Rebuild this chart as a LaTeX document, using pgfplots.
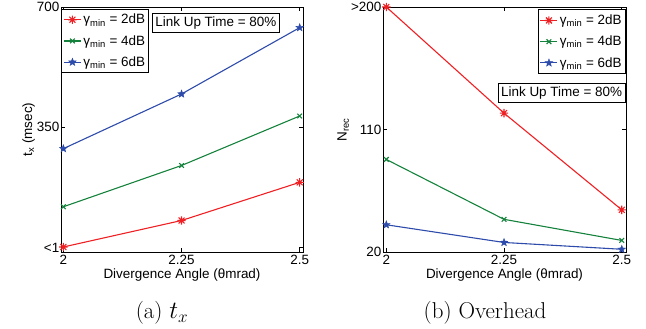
\documentclass[border=0pt]{standalone}
\usepackage{pgfplots}
\pgfplotsset{compat=1.18}
\usepackage{fontspec}
\newfontfamily\arial{Liberation Sans}
\definecolor{cred}{RGB}{238,32,36}
\definecolor{cgreen}{RGB}{20,130,60}
\definecolor{cblue}{RGB}{45,75,170}
\newcommand\myfont{\fontsize{13.5}{16}\selectfont\arial}
\pgfdeclareplotmark{pstar}{%
  \pgfpathmoveto{\pgfpointpolar{90}{\pgfplotmarksize}}%
  \pgfpathlineto{\pgfpointpolar{126}{0.42\pgfplotmarksize}}%
  \pgfpathlineto{\pgfpointpolar{162}{\pgfplotmarksize}}%
  \pgfpathlineto{\pgfpointpolar{198}{0.42\pgfplotmarksize}}%
  \pgfpathlineto{\pgfpointpolar{234}{\pgfplotmarksize}}%
  \pgfpathlineto{\pgfpointpolar{270}{0.42\pgfplotmarksize}}%
  \pgfpathlineto{\pgfpointpolar{306}{\pgfplotmarksize}}%
  \pgfpathlineto{\pgfpointpolar{342}{0.42\pgfplotmarksize}}%
  \pgfpathlineto{\pgfpointpolar{18}{\pgfplotmarksize}}%
  \pgfpathlineto{\pgfpointpolar{54}{0.42\pgfplotmarksize}}%
  \pgfpathclose\pgfusepathqfillstroke}
\pgfdeclareplotmark{mast}{%
  \pgfpathmoveto{\pgfqpoint{-\pgfplotmarksize}{0pt}}\pgfpathlineto{\pgfqpoint{\pgfplotmarksize}{0pt}}%
  \pgfpathmoveto{\pgfqpoint{0pt}{-\pgfplotmarksize}}\pgfpathlineto{\pgfqpoint{0pt}{\pgfplotmarksize}}%
  \pgfpathmoveto{\pgfpointpolar{45}{\pgfplotmarksize}}\pgfpathlineto{\pgfpointpolar{225}{\pgfplotmarksize}}%
  \pgfpathmoveto{\pgfpointpolar{135}{\pgfplotmarksize}}\pgfpathlineto{\pgfpointpolar{315}{\pgfplotmarksize}}%
  \pgfusepathqstroke}
\pgfplotsset{
  mystyle/.style={
    scale only axis, width=242bp, height=245bp,
    font=\myfont,
    axis line style={line width=0.9pt},
    tick align=inside, major tick length=4bp,
    tick style={black, line width=0.6pt},
    xtick={2,2.25,2.5}, xticklabels={2,2.25,2.5},
    xticklabel style={inner sep=0bp, yshift=-3bp},
    xlabel={Divergence Angle (θmrad)},
    xlabel style={at={(axis description cs:0.5,0)}, anchor=north, inner sep=0bp, yshift=-16.5bp},
    yticklabel style={inner sep=1.5bp},
    clip=false,
    legend cell align=left,
    legend style={draw=black, line width=0.8pt, font=\myfont, inner xsep=1.5bp, inner ysep=3bp, row sep=6bp},
    legend image code/.code={
      \draw[mark repeat=2,mark phase=2,#1] plot coordinates {(0bp,0bp) (8.5bp,0bp) (17bp,0bp)};
    },
    every axis plot/.append style={line width=1.1pt},
  },
  sred/.style={cred, mark=mast, mark size=4.2bp, mark options={line width=1.1pt}},
  sgreen/.style={cgreen, mark=x, mark size=3.3bp},
  sblue/.style={cblue, mark=pstar, mark size=4bp, mark options={line width=0.4pt, fill=cblue}},
}
\begin{document}
\begin{tikzpicture}
\path[use as bounding box] (-61bp,-77bp) rectangle (585bp,252bp);
\begin{axis}[mystyle, at={(0bp,0bp)}, anchor=south west,
  xmin=1.995, xmax=2.507, ymin=-12.6, ymax=700,
  ytick={0,350,700}, yticklabels={<1,350,700},
  ylabel={t\textsubscript{x} (msec)},
  ylabel style={yshift=-3bp},
  legend style={at={(rel axis cs:0.002,0.993)}, anchor=north west},
]
\addplot[sred] coordinates {(2,2) (2.25,79) (2.5,190)};
\addlegendentry{γ\textsubscript{min} = 2dB}
\addplot[sgreen] coordinates {(2,119) (2.25,239) (2.5,383)};
\addlegendentry{γ\textsubscript{min} = 4dB}
\addplot[sblue] coordinates {(2,288) (2.25,447) (2.5,640)};
\addlegendentry{γ\textsubscript{min} = 6dB}
\node[draw=black, line width=0.8pt, fill=white, inner xsep=3bp, inner ysep=3.5bp, font=\myfont] at (rel axis cs:0.64,0.935) {Link Up Time = 80\%};
\end{axis}
\begin{axis}[mystyle, at={(322bp,0bp)}, anchor=south west, width=243bp,
  xmin=1.993, xmax=2.509, ymin=20, ymax=200,
  ytick={20,110,200}, yticklabels={20,110,>200},
  ylabel={N\textsubscript{rec}},
  ylabel style={yshift=-3bp},
  legend style={at={(rel axis cs:0.998,0.99)}, anchor=north east},
]
\addplot[sred] coordinates {(2,200) (2.25,122) (2.5,51)};
\addlegendentry{γ\textsubscript{min} = 2dB}
\addplot[sgreen] coordinates {(2,88) (2.25,44) (2.5,28.5)};
\addlegendentry{γ\textsubscript{min} = 4dB}
\addplot[sblue] coordinates {(2,40) (2.25,27) (2.5,22)};
\addlegendentry{γ\textsubscript{min} = 6dB}
\node[draw=black, line width=0.8pt, fill=white, inner xsep=3bp, inner ysep=3.5bp, font=\myfont] at (rel axis cs:0.735,0.649) {Link Up Time = 80\%};
\end{axis}
\node[font=\fontsize{23}{27}\selectfont] at (101bp,-61bp) {(a) $t_x$};
\node[font=\fontsize{23}{27}\selectfont] at (424bp,-61bp) {(b) Overhead};
\end{tikzpicture}
\end{document}
